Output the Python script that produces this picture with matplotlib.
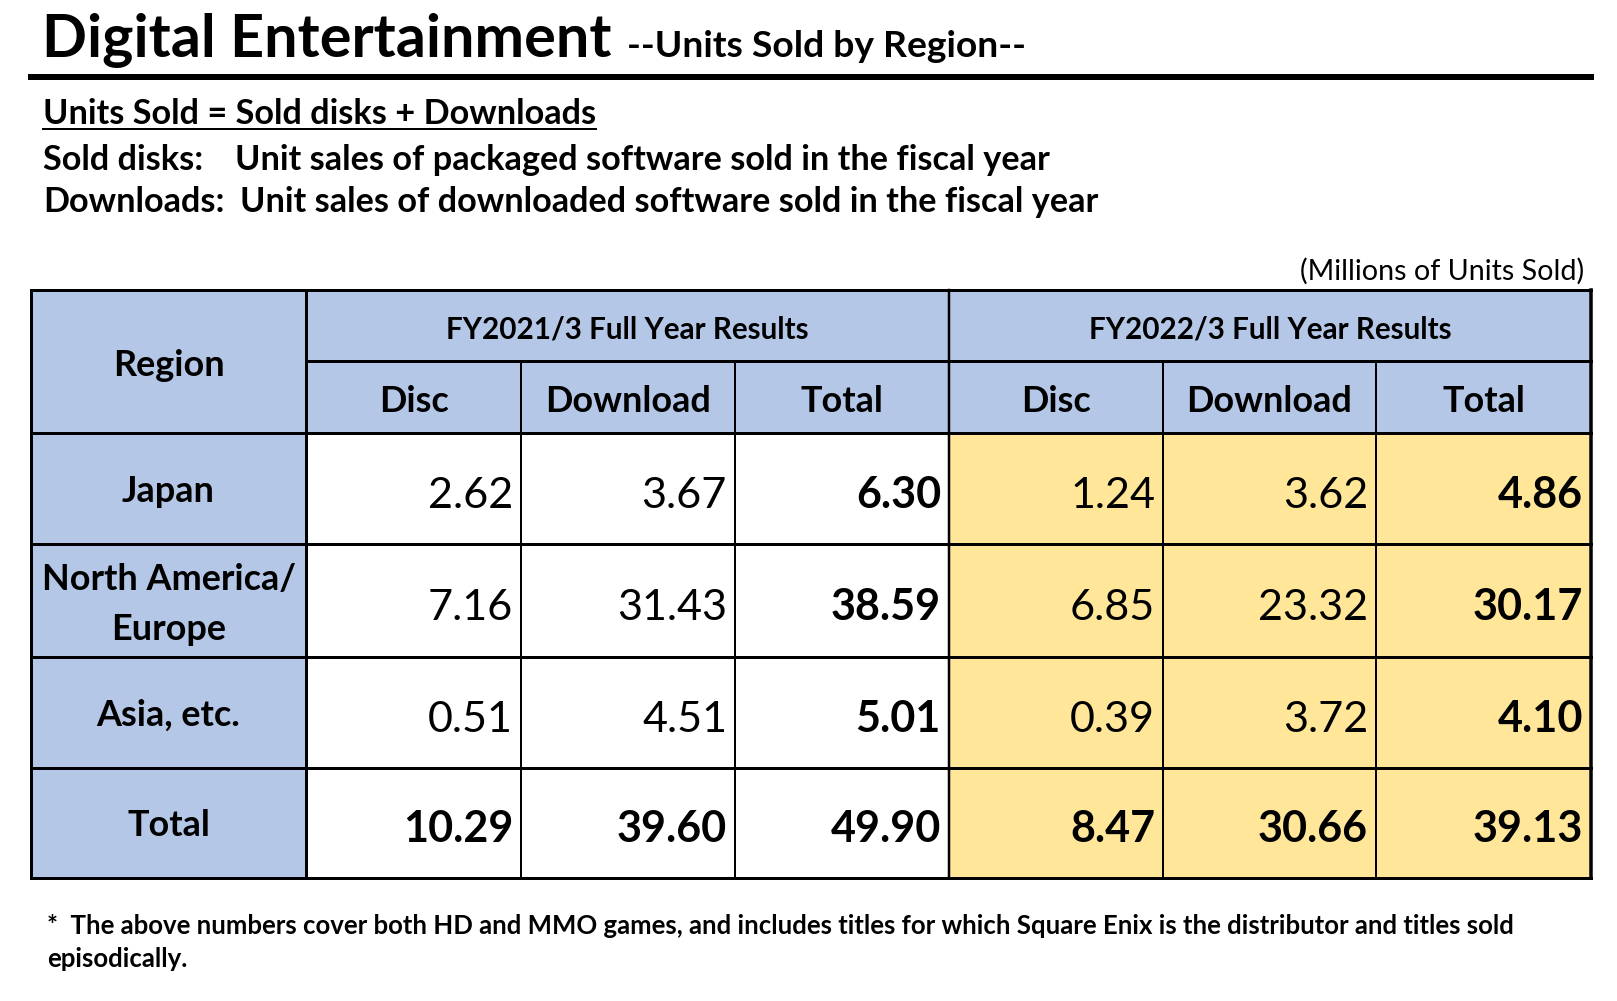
import matplotlib
matplotlib.use("Agg")
import matplotlib.pyplot as plt
from matplotlib.patches import Rectangle

plt.rcParams["font.family"] = ["Lato", "DejaVu Sans"]

# ---------------- data / texts ----------------
title = "Digital Entertainment"
subtitle = "--Units Sold by Region--"
formula = "Units Sold = Sold disks + Downloads"
def_labels = ["Sold disks:", "Downloads:"]
def_texts = ["Unit sales of packaged software sold in the fiscal year",
             "Unit sales of downloaded software sold in the fiscal year"]
unit_note = "(Millions of Units Sold)"
region_header = "Region"
periods = ["FY2021/3 Full Year Results", "FY2022/3 Full Year Results"]
subcols = ["Disc", "Download", "Total"]
regions = ["Japan", "North America/\nEurope", "Asia, etc."]
total_label = "Total"

fy2021_disc = [2.62, 7.16, 0.51]
fy2021_download = [3.67, 31.43, 4.51]
fy2021_total = [6.30, 38.59, 5.01]
fy2022_disc = [1.24, 6.85, 0.39]
fy2022_download = [3.62, 23.32, 3.72]
fy2022_total = [4.86, 30.17, 4.10]
fy2021_sum = [10.29, 39.60, 49.90]
fy2022_sum = [8.47, 30.66, 39.13]

footnote = ["*  The above numbers cover both HD and MMO games, and includes titles for which Square Enix is the distributor and titles sold",
            "episodically."]

# ---------------- layout ----------------
W, H = 1617, 1001
fig = plt.figure(figsize=(W / 100, H / 100), dpi=100)
ax = fig.add_axes([0, 0, 1, 1])
ax.set_xlim(0, W)
ax.set_ylim(H, 0)
ax.axis("off")
renderer = fig.canvas.get_renderer()

BLUE = "#B4C7E7"
YELLOW = "#FFE699"
px = 72 / 100  # points per pixel

col_x = [31, 306, 521, 735, 949, 1163, 1376, 1591]
y_top, y_mid, y_head = 290, 361, 433
row_y = [433, 544, 657, 768, 878]

# fills
ax.add_patch(Rectangle((col_x[0], y_top), col_x[1] - col_x[0], row_y[-1] - y_top, fc=BLUE, ec="none"))
ax.add_patch(Rectangle((col_x[1], y_top), col_x[-1] - col_x[1], y_head - y_top, fc=BLUE, ec="none"))
ax.add_patch(Rectangle((col_x[4], y_head), col_x[-1] - col_x[4], row_y[-1] - y_head, fc=YELLOW, ec="none"))

# lines
def hline(y, x0, x1, w):
    ax.plot([x0, x1], [y, y], color="black", lw=w * px, solid_capstyle="projecting")

def vline(x, y0, y1, w):
    ax.plot([x, x], [y0, y1], color="black", lw=w * px, solid_capstyle="projecting")

hline(y_top, col_x[0], col_x[-1], 3)
hline(y_mid, col_x[1], col_x[-1], 3)
for y in row_y:
    hline(y, col_x[0], col_x[-1], 3)
vline(col_x[0], y_top, row_y[-1], 3)
vline(col_x[-1], y_top, row_y[-1], 3.5)
vline(col_x[1], y_top, row_y[-1], 3)
vline(col_x[4], y_top, row_y[-1], 2.5)
for x in (col_x[2], col_x[3], col_x[5], col_x[6]):
    vline(x, y_mid, row_y[-1], 2)

# title rule
hline(77, 31, 1591, 6)

def txt(x, y, s, bold=False, ha="left", va="baseline", size=20):
    return ax.text(x, y, s, ha=ha, va=va, fontsize=size,
                   fontweight="bold" if bold else "normal", color="black")

def fit(group, ref, target):
    w = ref.get_window_extent(renderer).width
    s = ref.get_fontsize() * target / w
    for t in group:
        t.set_fontsize(s)

# header texts
t_title = txt(42, 57, title, bold=True, size=40)
fit([t_title], t_title, 568)
t_sub = txt(627, 57, subtitle, bold=True, size=20)
fit([t_sub], t_sub, 401)

t_form = txt(43, 124, formula, bold=True)
t_l1 = txt(43, 170, def_labels[0], bold=True)
t_l2 = txt(43, 212, def_labels[1], bold=True)
t_d1 = txt(235, 170, def_texts[0], bold=True)
t_d2 = txt(240, 212, def_texts[1], bold=True)
fit([t_form, t_l1, t_l2, t_d1, t_d2], t_d2, 858)
bb = t_form.get_window_extent(renderer)
ax.plot([43, 43 + bb.width], [129, 129], color="black", lw=2 * px)

t_unit = txt(1584, 280, unit_note, ha="right")
fit([t_unit], t_unit, 283)

# table header texts
hdr = []
hdr.append(txt((col_x[0] + col_x[1]) / 2, 376, region_header, bold=True, ha="center"))
per_t = []
for i, p in enumerate(periods):
    x0, x1 = col_x[1 + 3 * i], col_x[4 + 3 * i]
    per_t.append(txt((x0 + x1) / 2, 339, p, bold=True, ha="center"))
fit(per_t, per_t[0], 362)
sub_t = []
for i in range(6):
    sub_t.append(txt((col_x[1 + i] + col_x[2 + i]) / 2, 412, subcols[i % 3], bold=True, ha="center"))

# row labels
row_centers = [(row_y[i] + row_y[i + 1]) / 2 for i in range(4)]
lab_t = []
cx = (col_x[0] + col_x[1]) / 2
for i, r in enumerate(regions + [total_label]):
    lines = r.split("\n")
    if len(lines) == 1:
        lab_t.append(txt(cx, row_centers[i] + 13, lines[0], bold=True, ha="center"))
    else:
        lab_t.append(txt(cx, row_centers[i] - 10, lines[0], bold=True, ha="center"))
        lab_t.append(txt(cx, row_centers[i] + 39, lines[1], bold=True, ha="center"))
fit(hdr + sub_t + lab_t, sub_t[1], 165)

# numbers
cols_2021 = [fy2021_disc, fy2021_download, fy2021_total]
cols_2022 = [fy2022_disc, fy2022_download, fy2022_total]
all_cols = cols_2021 + cols_2022
sums = fy2021_sum + fy2022_sum
reg_t, bold_t = [], []
for c, vals in enumerate(all_cols):
    xr = col_x[2 + c] - 8
    for r, v in enumerate(vals):
        bold = (c % 3 == 2)
        t = txt(xr, row_centers[r] + 19, f"{v:.2f}", bold=bold, ha="right", size=30)
        (bold_t if bold else reg_t).append(t)
    bold_t.append(txt(xr, row_centers[3] + 19, f"{sums[c]:.2f}", bold=True, ha="right", size=30))
fit(reg_t, reg_t[4], 110)   # 31.43
fit(bold_t, bold_t[1], 110)  # 38.59

# footnote
f1 = txt(47, 934, footnote[0], bold=True)
f2 = txt(47, 967, footnote[1], bold=True)
fit([f1, f2], f1, 1463)

fig.savefig("out.png", dpi=100, facecolor="white")
